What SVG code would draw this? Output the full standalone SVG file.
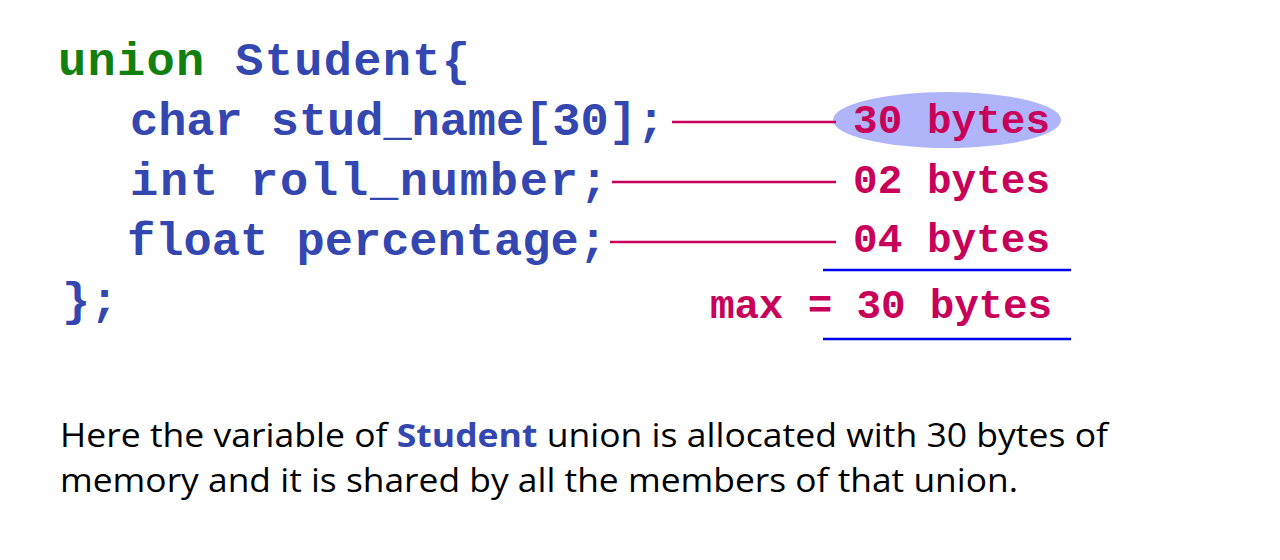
<svg xmlns="http://www.w3.org/2000/svg" width="1280" height="560" viewBox="0 0 1280 560">
<style>
.c{font-family:"Liberation Mono",monospace;font-weight:bold;font-size:47px;fill:#3446b0}
.k{fill:#118011}
.b{font-family:"Liberation Mono",monospace;font-weight:bold;font-size:41px;fill:#c8005a}
.l{stroke:#c8005a;stroke-width:2.5}
.u{stroke:#0000ee;stroke-width:2.5}
.t{font-family:"Open Sans","Liberation Sans",sans-serif;font-size:32px;fill:#000}
</style>
<rect width="1280" height="560" fill="#fff"/>
<g id="code">
<text class="c" x="58" y="75" textLength="412"><tspan class="k">union</tspan> Student{</text>
<text class="c" x="130" y="135" textLength="535">char stud_name[30];</text>
<text class="c" x="130" y="195" textLength="478">int roll_number;</text>
<text class="c" x="127" y="255" textLength="480">float percentage;</text>
<text class="c" x="62" y="315">};</text>
</g>
<g id="highlight"><ellipse cx="947" cy="120" rx="114" ry="28" fill="#b0b4f8"/></g>
<g id="connectors">
<line class="l" x1="672" y1="122" x2="836" y2="122"/>
<line class="l" x1="612" y1="182" x2="836" y2="182"/>
<line class="l" x1="610" y1="242" x2="836" y2="242"/>
<line class="u" x1="823" y1="270" x2="1071" y2="270"/>
<line class="u" x1="823" y1="339" x2="1071" y2="339"/>
</g>
<g id="sizes">
<text class="b" x="853" y="133" textLength="197">30 bytes</text>
<text class="b" x="853" y="193" textLength="197">02 bytes</text>
<text class="b" x="853" y="252" textLength="197">04 bytes</text>
<text class="b" x="710" y="318" textLength="342">max = 30 bytes</text>
</g>
<g id="caption">
<text class="t" x="60" y="447" textLength="1048" lengthAdjust="spacingAndGlyphs">Here the variable of <tspan font-weight="bold" fill="#3446b0">Student</tspan> union is allocated with 30 bytes of</text>
<text class="t" x="60" y="492" textLength="958" lengthAdjust="spacingAndGlyphs">memory and it is shared by all the members of that union.</text>
</g>
</svg>
